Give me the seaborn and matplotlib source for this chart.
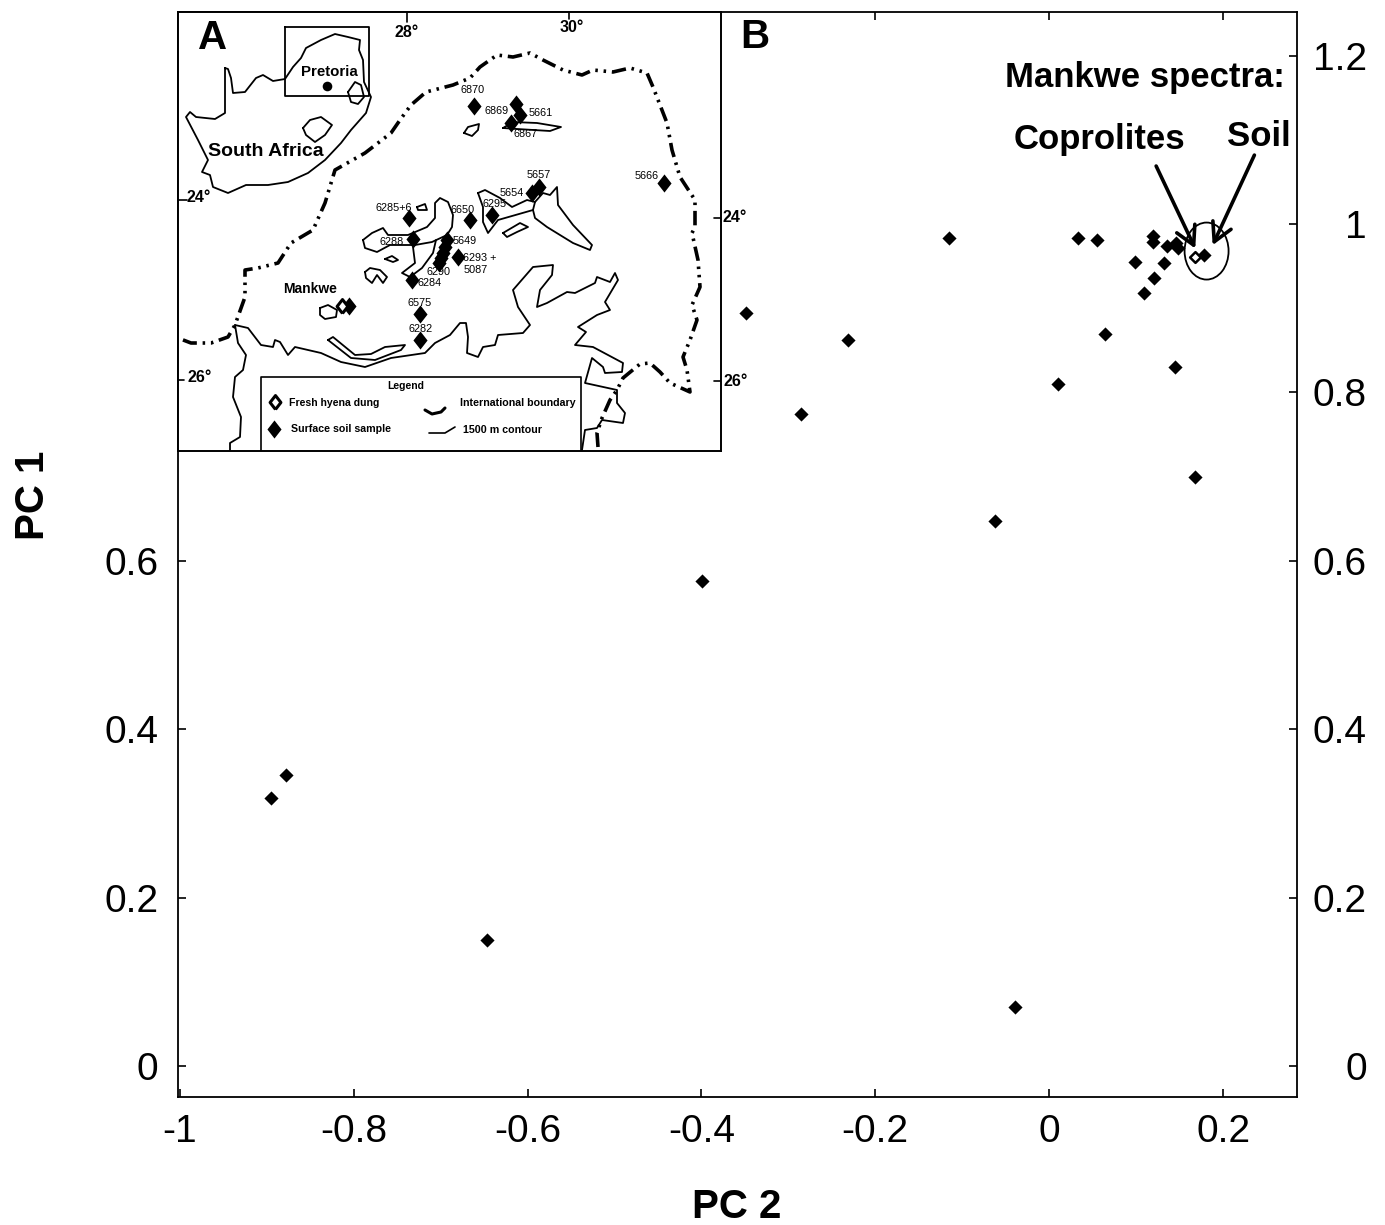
import matplotlib
matplotlib.use("Agg")
import matplotlib.pyplot as plt
import seaborn as sns
from matplotlib.patches import Ellipse

# main scatter, PC2 / PC1
pc2 = [-0.895, -0.878, -0.647, -0.399, -0.349, -0.285, -0.231, -0.115, -0.062, -0.039,
       0.010, 0.033, 0.055, 0.064, 0.099, 0.109, 0.120, 0.119, 0.119, 0.132,
       0.135, 0.146, 0.148, 0.145, 0.168, 0.178]
pc1 = [0.318, 0.346, 0.150, 0.576, 0.895, 0.775, 0.862, 0.984, 0.647, 0.070,
       0.810, 0.984, 0.981, 0.869, 0.955, 0.918, 0.936, 0.986, 0.979, 0.954,
       0.974, 0.978, 0.972, 0.830, 0.700, 0.963]
coprolite_pc2 = [0.168]
coprolite_pc1 = [0.961]
xticks = [-1, -0.8, -0.6, -0.4, -0.2, 0, 0.2]
yticks = [0, 0.2, 0.4, 0.6, 0.8, 1, 1.2]

# map sites (inset uses reference pixel grid as map coordinates)
site_x = [474, 516, 520, 511, 539, 532, 664, 409, 470, 492, 413, 447, 445, 443, 441, 439, 458, 412, 349, 420, 420]
site_y = [106, 104, 115, 123, 187, 193, 183, 218, 220, 215, 239, 240, 247, 253, 258, 263, 257, 280, 306, 314, 340]
dung_x = [342, 275]
dung_y = [306, 402]
site_labels = ["6870", "6869", "5661", "6867", "5657", "5654", "5666", "6285+6", "6650", "6295",
               "6288", "5649", "6293 +", "5087", "6290", "6284", "6575", "6282"]
label_x = [473, 497, 541, 526, 539, 512, 647, 394, 463, 495, 392, 465, 480, 476, 438, 430, 420, 421]
label_y = [90, 111, 113, 134, 175, 193, 176, 208, 210, 204, 242, 241, 258, 270, 272, 283, 303, 329]

south_africa = [(225, 68), (228, 69), (231, 78), (233, 93), (245, 92), (256, 78), (263, 75), (273, 81), (285, 79),
                (293, 67), (301, 58), (306, 48), (321, 40), (335, 34), (348, 37), (360, 40), (359, 50), (363, 60),
                (364, 82), (371, 97), (366, 113), (351, 130), (341, 143), (325, 160), (308, 173), (288, 182),
                (268, 185), (246, 185), (228, 193), (213, 187), (210, 175), (202, 172), (208, 160), (198, 140),
                (186, 117), (190, 112), (196, 117), (215, 119), (225, 113), (225, 68)]
swaziland = [(348, 92), (355, 82), (361, 85), (364, 97), (358, 104), (351, 102), (348, 92)]
lesotho = [(303, 128), (310, 120), (321, 117), (332, 125), (325, 135), (315, 142), (306, 135), (303, 128)]
boundary = [(598, 447), (597, 433), (602, 418), (610, 400), (617, 390), (623, 378), (640, 364), (650, 363), (660, 372),
            (670, 383), (690, 392), (687, 370), (683, 357), (690, 340), (697, 320), (692, 305), (700, 287), (698, 260),
            (692, 233), (695, 227), (695, 200), (680, 177), (672, 150), (667, 123), (653, 87), (647, 73), (630, 68),
            (613, 72), (593, 70), (582, 75), (563, 70), (543, 60), (530, 53), (513, 57), (497, 55), (480, 67), (470, 78),
            (453, 85), (426, 92), (411, 105), (400, 120), (391, 133), (365, 153), (335, 170), (325, 203), (313, 230),
            (291, 243), (278, 263), (258, 268), (245, 270), (245, 297), (235, 325), (228, 337), (211, 343), (191, 343),
            (178, 338)]
contour_main = [(235, 325), (248, 328), (261, 345), (273, 347), (275, 340), (280, 342), (288, 355), (295, 347), (321, 353),
                (341, 362), (365, 367), (391, 358), (425, 353), (435, 343), (450, 335), (460, 323), (466, 323), (468, 337),
                (467, 353), (478, 357), (483, 347), (495, 345), (498, 335), (523, 333), (530, 325), (518, 307), (513, 290),
                (533, 267), (553, 265), (552, 275), (540, 290), (537, 307), (547, 303), (567, 292), (575, 293), (595, 283),
                (597, 277), (610, 282), (615, 273), (618, 280), (605, 302), (610, 310), (597, 315), (578, 327), (586, 332),
                (575, 345), (593, 347), (623, 363), (622, 372), (605, 373), (603, 367), (592, 358), (585, 383), (617, 390),
                (617, 403), (625, 413), (623, 423), (602, 420), (597, 428), (585, 430), (582, 450)]
contour_west = [(235, 325), (238, 343), (246, 355), (243, 370), (235, 377), (233, 397), (241, 417), (240, 437), (230, 443),
                (230, 450)]
contour_a = [(363, 240), (372, 233), (383, 228), (388, 235), (408, 235), (427, 227), (435, 218), (435, 203), (440, 198),
             (448, 202), (453, 215), (452, 227), (447, 235), (432, 242), (415, 245), (390, 245), (377, 252), (365, 248),
             (363, 240)]
contour_b = [(413, 247), (415, 263), (402, 273), (410, 277), (422, 268), (433, 253), (436, 240)]
contour_c = [(385, 259), (392, 256), (398, 260), (393, 262), (385, 259)]
contour_shoe = [(365, 272), (370, 268), (380, 270), (387, 277), (383, 283), (377, 275), (372, 283), (366, 278), (365, 272)]
contour_d = [(417, 207), (425, 204), (427, 210), (418, 210), (417, 207)]
contour_e = [(478, 193), (485, 190), (500, 198), (512, 207), (527, 200), (535, 202), (533, 210), (498, 220), (488, 233),
             (483, 222), (483, 207), (478, 193)]
contour_f = [(535, 202), (543, 193), (550, 195), (557, 187), (558, 205), (573, 225), (592, 245), (590, 250), (573, 243),
             (547, 227), (535, 218), (533, 210)]
contour_g = [(503, 233), (520, 223), (528, 227), (517, 232), (507, 237), (503, 233)]
contour_h = [(503, 128), (513, 122), (537, 123), (561, 127), (550, 131), (517, 129), (503, 128)]
contour_i = [(464, 133), (468, 127), (479, 124), (478, 130), (472, 136), (464, 133)]
contour_j = [(320, 308), (328, 305), (337, 310), (336, 317), (325, 319), (320, 315), (320, 308)]
contour_k = [(328, 340), (333, 337), (355, 355), (371, 354), (385, 347), (405, 345), (401, 350), (375, 360), (351, 358),
             (328, 340)]
contours = [contour_main, contour_west, contour_a, contour_b, contour_c, contour_shoe, contour_d, contour_e, contour_f,
            contour_g, contour_h, contour_i, contour_j, contour_k, south_africa, swaziland, lesotho]

sns.set_style("ticks")
plt.rcParams["font.family"] = ["Liberation Sans", "DejaVu Sans"]
plt.rcParams["axes.unicode_minus"] = False
plt.rcParams["text.color"] = "black"
plt.rcParams["axes.labelcolor"] = "black"
plt.rcParams["xtick.color"] = "black"
plt.rcParams["ytick.color"] = "black"

W, H = 1385, 1225
fig = plt.figure(figsize=(W / 100, H / 100), dpi=100)
ax = fig.add_axes([178 / W, 1 - 1097 / H, (1297 - 178) / W, (1097 - 12) / H])

sns.scatterplot(x=pc2, y=pc1, marker="D", color="black", s=52, linewidth=0, ax=ax)
sns.scatterplot(x=coprolite_pc2, y=coprolite_pc1, marker="D", facecolor="white", edgecolor="black", s=30, linewidth=1.8, ax=ax)

ax.set_xlim(-1.002, 0.285)
ax.set_ylim(-0.037, 1.252)
ax.set_xticks(xticks)
ax.set_yticks(yticks)
ax.set_xticklabels([f"{v:g}" for v in xticks])
ax.set_yticklabels([f"{v:g}" for v in yticks])
ax.tick_params(axis="x", direction="in", top=True, length=6, width=1.2, labelsize=28, pad=12)
ax.tick_params(axis="y", direction="in", right=True, labelright=True, length=6, width=1.2, labelsize=28, pad=14)
for tick, v in zip(ax.yaxis.get_major_ticks(), yticks):
    tick.label2.set_horizontalalignment("right")
    if v > 0.6:
        tick.label1.set_visible(False)
    tick.label2.set_transform(ax.get_yaxis_transform(which="tick2") + matplotlib.transforms.ScaledTranslation(70 / 100, 0, fig.dpi_scale_trans))
for spine in ax.spines.values():
    spine.set_visible(True)
    spine.set_linewidth(1.3)
    spine.set_color("black")
ax.set_xlabel("PC 2", fontsize=29, fontweight="bold")
ax.set_ylabel("PC 1", fontsize=29, fontweight="bold")
ax.xaxis.set_label_coords((737 - 178) / (1297 - 178), -(1207 - 1097) / (1097 - 12), transform=ax.transAxes)
ax.xaxis.label.set_verticalalignment("center")
ax.yaxis.set_label_coords(-(178 - 33) / (1297 - 178), (1097 - 495) / (1097 - 12), transform=ax.transAxes)
ax.yaxis.label.set_verticalalignment("center")

# annotation of the Mankwe spectra
arrow = dict(arrowstyle="->,head_length=0.55,head_width=0.3", lw=2.6, color="black", mutation_scale=24, shrinkA=0, shrinkB=0)
ax.add_patch(Ellipse((0.181, 0.968), 44 / 869.5, 57 / 841.7, facecolor="none", edgecolor="black", linewidth=1.3))
ax.annotate("", xy=(0.168, 0.971), xytext=(0.123, 1.069), arrowprops=arrow)
ax.annotate("", xy=(0.188, 0.975), xytext=(0.236, 1.082), arrowprops=arrow)
fig.text(1145 / W, 1 - 77 / H, "Mankwe spectra:", fontsize=25, fontweight="bold", ha="center", va="center")
fig.text(1099 / W, 1 - 139 / H, "Coprolites", fontsize=25, fontweight="bold", ha="center", va="center")
fig.text(1259 / W, 1 - 136 / H, "Soil", fontsize=25, fontweight="bold", ha="center", va="center")
fig.text(755 / W, 1 - 37 / H, "B", fontsize=29, fontweight="bold", ha="center", va="center", zorder=10)

# inset map A
inset = fig.add_axes([178 / W, 1 - 451 / H, (721 - 178) / W, (451 - 12) / H], zorder=5)
inset.set_xticks([])
inset.set_yticks([])
for spine in inset.spines.values():
    spine.set_linewidth(1.4)
    spine.set_color("black")

for part in contours:
    inset.plot([p[0] for p in part], [p[1] for p in part], color="black", lw=1.3, solid_joinstyle="round")
inset.plot([p[0] for p in boundary], [p[1] for p in boundary], color="black", lw=2.6, linestyle=(0, (4, 1.6, 0.7, 1.6, 0.7, 1.6)))
inset.plot([285, 369, 369, 285, 285], [27, 27, 96, 96, 27], color="black", lw=1.3)
inset.plot([425, 432, 441, 445], [410, 414, 412, 408], color="black", lw=2.2)
inset.plot([429, 445, 455], [433, 433, 427], color="black", lw=1.2)
for x0, x1, y0, y1 in [(407, 407, 12, 22), (569, 569, 12, 19), (178, 187, 200, 200), (178, 184, 380, 380),
                       (714, 721, 218, 218), (714, 721, 381, 381)]:
    inset.plot([x0, x1], [y0, y1], color="black", lw=1.2)

diamond = [(0, -1), (0.78, 0), (0, 1), (-0.78, 0), (0, -1)]
sns.scatterplot(x=site_x + [274], y=site_y + [429], marker=diamond, color="black", s=170, linewidth=0, ax=inset)
sns.scatterplot(x=dung_x, y=dung_y, marker=diamond, facecolor="white", edgecolor="black", s=100, linewidth=2.2, ax=inset)
inset.scatter([327], [86], s=48, color="black", linewidth=0)
inset.set_xlim(178, 721)
inset.set_ylim(451, 12)

for name, x, y in zip(site_labels, label_x, label_y):
    inset.text(x, y, name, fontsize=7.8, ha="center", va="center")
inset.text(198, 38, "A", fontsize=29, fontweight="bold", ha="left", va="center")
inset.text(329, 72, "Pretoria", fontsize=10.8, fontweight="bold", ha="center", va="center")
inset.text(266, 152, "South Africa", fontsize=14, fontweight="bold", ha="center", va="center")
inset.text(310, 289, "Mankwe", fontsize=10, fontweight="bold", ha="center", va="center")
for txt, x, y in [("28°", 407, 33), ("30°", 572, 28), ("24°", 199, 198), ("26°", 200, 378), ("24°", 735, 218), ("26°", 736, 381)]:
    inset.text(x, y, txt, fontsize=11.5, fontweight="bold", ha="center", va="center", clip_on=False)

# map legend
inset.plot([261, 261, 581, 581], [451, 377, 377, 451], color="black", lw=1.2)
inset.text(406, 386, "Legend", fontsize=7.5, fontweight="bold", ha="center", va="center")
inset.text(289, 403, "Fresh hyena dung", fontsize=7.6, fontweight="bold", ha="left", va="center")
inset.text(291, 429, "Surface soil sample", fontsize=7.7, fontweight="bold", ha="left", va="center")
inset.text(460, 403, "International boundary", fontsize=7.7, fontweight="bold", ha="left", va="center")
inset.text(463, 430, "1500 m contour", fontsize=7.7, fontweight="bold", ha="left", va="center")

fig.savefig("out.png", dpi=100)
